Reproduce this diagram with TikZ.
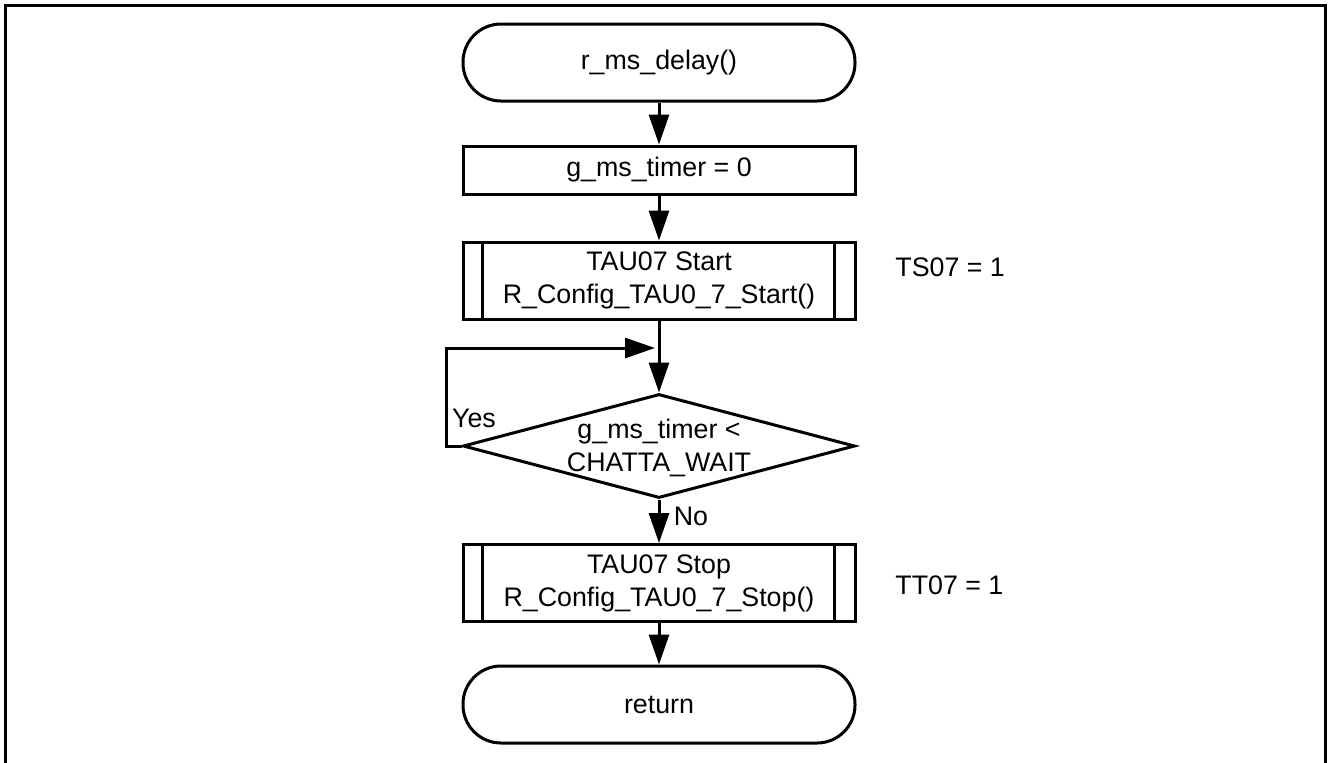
\documentclass[tikz,border=0pt]{standalone}
\usepackage{fontspec}
\setmainfont{Liberation Sans}
\usetikzlibrary{shapes.geometric,arrows.meta}
\begin{document}
\begin{tikzpicture}[x=0.5pt,y=-0.5pt,
  every node/.style={font=\fontsize{13.4}{16.5}\selectfont},
  term/.style={draw,line width=1.5pt,rounded corners=19pt,minimum width=196pt,minimum height=38.5pt,inner sep=0pt},
  proc/.style={draw,line width=1.5pt,minimum width=196pt,minimum height=24pt,inner sep=0pt},
  pred/.style={draw,line width=1.5pt,minimum width=196pt,minimum height=38.5pt,inner sep=0pt,align=center},
  dec/.style={draw,diamond,aspect=3.77,line width=1.5pt,minimum width=196pt,minimum height=52pt,inner sep=0pt},
  arr/.style={line width=1.5pt,-{Triangle[length=15pt,width=10pt]}},
  conn/.style={line width=1.5pt},
  side/.style={anchor=west,inner sep=0pt}]
\useasboundingbox (0,0) rectangle (1328,762);
\draw[line width=1.5pt] (5,775) -- (5,5) -- (1325,5) -- (1325,775);

\node[term] (start) at (659,62.5) {r\_ms\_delay()};
\node[proc] (init) at (659,170) {g\_ms\_timer = 0};
\node[pred] (tstart) at (659,280.5) {TAU07 Start\\R\_Config\_TAU0\_7\_Start()};
\draw[conn] ([xshift=10.5pt]tstart.north west) -- ([xshift=10.5pt]tstart.south west);
\draw[conn] ([xshift=-11pt]tstart.north east) -- ([xshift=-11pt]tstart.south east);
\node[dec] (cond) at (659,446) {};
\node[align=center] (condtxt) at (659,448) {g\_ms\_timer <\\CHATTA\_WAIT};
\node[pred] (tstop) at (659,583) {TAU07 Stop\\R\_Config\_TAU0\_7\_Stop()};
\draw[conn] ([xshift=10.5pt]tstop.north west) -- ([xshift=10.5pt]tstop.south west);
\draw[conn] ([xshift=-11pt]tstop.north east) -- ([xshift=-11pt]tstop.south east);
\node[term] (ret) at (659,704.5) {return};

\node[side] (ts) at (895,267) {TS07 = 1};
\node[side] (tt) at (895,585) {TT07 = 1};

\coordinate (loopin) at (655,348);
\coordinate (loopleft) at (446,446);

\draw[arr] (start.south) -- (init.north);
\draw[arr] (init.south) -- (tstart.north);
\draw[arr] (tstart.south) -- (cond.north);
\draw[arr] (cond.west) -- (loopleft) |- (loopin);
\draw[arr] (cond.south) -- (tstop.north);
\draw[arr] (tstop.south) -- (ret.north);

\node[inner sep=0pt] (yes) at (474,418) {Yes};
\node[inner sep=0pt] (no) at (691,516) {No};
\end{tikzpicture}
\end{document}
